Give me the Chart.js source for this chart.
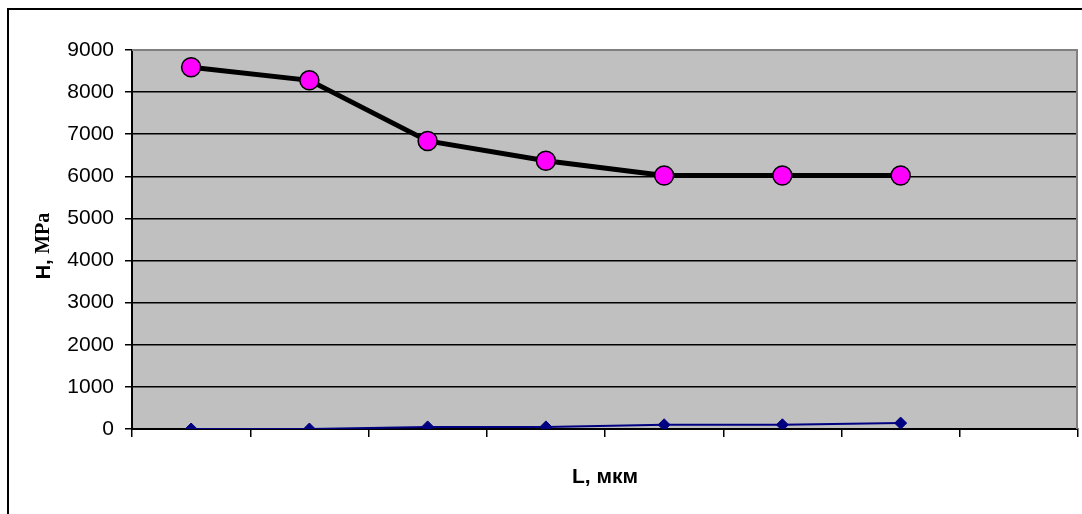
<!DOCTYPE html>
<html>
<head>
<meta charset="utf-8">
<script src="https://cdn.jsdelivr.net/npm/chart.js@4.4.1/dist/chart.umd.min.js"></script>
<style>
    body { margin: 0; background: #fff; overflow: hidden; }
    #wrap { position: relative; width: 1082px; height: 514px; overflow: hidden; }
    #frame { position: absolute; left: 7px; top: 8px; width: 1200px; height: 700px; border: 2px solid #000; }
    #myChart { position: absolute; left: 0; top: 0; }
</style>
</head>
<body>
<div id="wrap">
    <div id="frame"></div>
    <canvas id="myChart" width="1082" height="514"></canvas>
</div>
<script>
// 8 category slots on the L axis, no labels printed in the original
const categories = ['', '', '', '', '', '', '', ''];
// H, MPa (black line, magenta points)
const hardness = [8590, 8280, 6840, 6370, 6020, 6020, 6020];
// second series near zero (blue diamonds)
const lowSeries = [0, 0, 50, 50, 100, 100, 140];
const yMin = 0;
const yMax = 9000;
const yStep = 1000;
const xTitle = 'L, мкм';
const yTitleSans = 'H, ';
const yTitleSerif = 'MPa';

// grey plot area with grey top / right edge
const plotArea = {
    id: 'plotArea',
    beforeDraw(chart) {
        const {ctx, chartArea: a} = chart;
        ctx.save();
        ctx.fillStyle = '#c0c0c0';
        ctx.fillRect(a.left, a.top, a.right - a.left, a.bottom - a.top);
        ctx.restore();
    },
    beforeDatasetsDraw(chart) {
        const {ctx, chartArea: a} = chart;
        ctx.save();
        ctx.strokeStyle = '#808080';
        ctx.lineWidth = 2;
        ctx.beginPath();
        ctx.moveTo(a.left, a.top);
        ctx.lineTo(a.right - 1, a.top);
        ctx.lineTo(a.right - 1, a.bottom);
        ctx.stroke();
        ctx.restore();
    }
};

// y title mixes a sans "H," with a serif "MPa"
const yTitle = {
    id: 'yTitle',
    afterDraw(chart) {
        const ctx = chart.ctx;
        const sans = 'bold 20px "Liberation Sans", Arial, sans-serif';
        const serif = 'bold 20px "Liberation Serif", "Times New Roman", serif';
        ctx.save();
        ctx.font = sans;
        const w1 = ctx.measureText(yTitleSans).width;
        ctx.font = serif;
        const w2 = ctx.measureText(yTitleSerif).width;
        ctx.translate(44, 246);
        ctx.rotate(-Math.PI / 2);
        ctx.fillStyle = '#000';
        ctx.textBaseline = 'middle';
        ctx.textAlign = 'left';
        const start = -(w1 + w2) / 2;
        ctx.font = sans;
        ctx.fillText(yTitleSans, start, 0);
        ctx.font = serif;
        ctx.fillText(yTitleSerif, start + w1, 0);
        ctx.restore();
    }
};

const data = {
    labels: categories,
    datasets: [{
        label: 'H',
        data: hardness,
        borderColor: '#000000',
        borderWidth: 5,
        pointStyle: 'circle',
        pointRadius: 9.5,
        pointBackgroundColor: '#ff00ff',
        pointBorderColor: '#000000',
        pointBorderWidth: 1.5,
        tension: 0
    }, {
        label: 'low',
        data: lowSeries,
        borderColor: '#000080',
        borderWidth: 2,
        pointStyle: 'rectRot',
        pointRadius: 6,
        pointBackgroundColor: '#000080',
        pointBorderColor: '#000080',
        pointBorderWidth: 1,
        tension: 0
    }]
};

const config = {
    type: 'line',
    data,
    plugins: [plotArea, yTitle],
    options: {
        responsive: false,
        animation: false,
        layout: {autoPadding: false, padding: {top: 50, right: 4, left: 0, bottom: 0}},
        plugins: {
            legend: {display: false},
            tooltip: {enabled: false}
        },
        scales: {
            x: {
                offset: true,
                afterFit: (scale) => { scale.height = 85; },
                grid: {
                    offset: true,
                    drawOnChartArea: false,
                    drawTicks: true,
                    tickLength: 8,
                    tickColor: '#000',
                    lineWidth: 1.5
                },
                border: {display: true, color: '#000', width: 2},
                ticks: {display: false},
                title: {
                    display: true,
                    text: xTitle,
                    color: '#000',
                    font: {family: '"Liberation Sans", Arial, sans-serif', size: 21, weight: 'bold'},
                    padding: {top: 0, bottom: 24}
                }
            },
            y: {
                min: yMin,
                max: yMax,
                afterFit: (scale) => { scale.width = 132; },
                grid: {
                    color: (c) => c.tick && c.tick.value === yMax ? '#808080' : '#000',
                    lineWidth: 1.5,
                    drawTicks: true,
                    tickLength: 7,
                    tickColor: '#000'
                },
                border: {display: true, color: '#000', width: 2},
                ticks: {
                    stepSize: yStep,
                    color: '#000',
                    padding: 11,
                    font: {family: '"Liberation Sans", Arial, sans-serif', size: 21},
                    callback: (v) => String(v)
                }
            }
        }
    }
};

const myChart = new Chart(document.getElementById('myChart'), config);
</script>
</body>
</html>
